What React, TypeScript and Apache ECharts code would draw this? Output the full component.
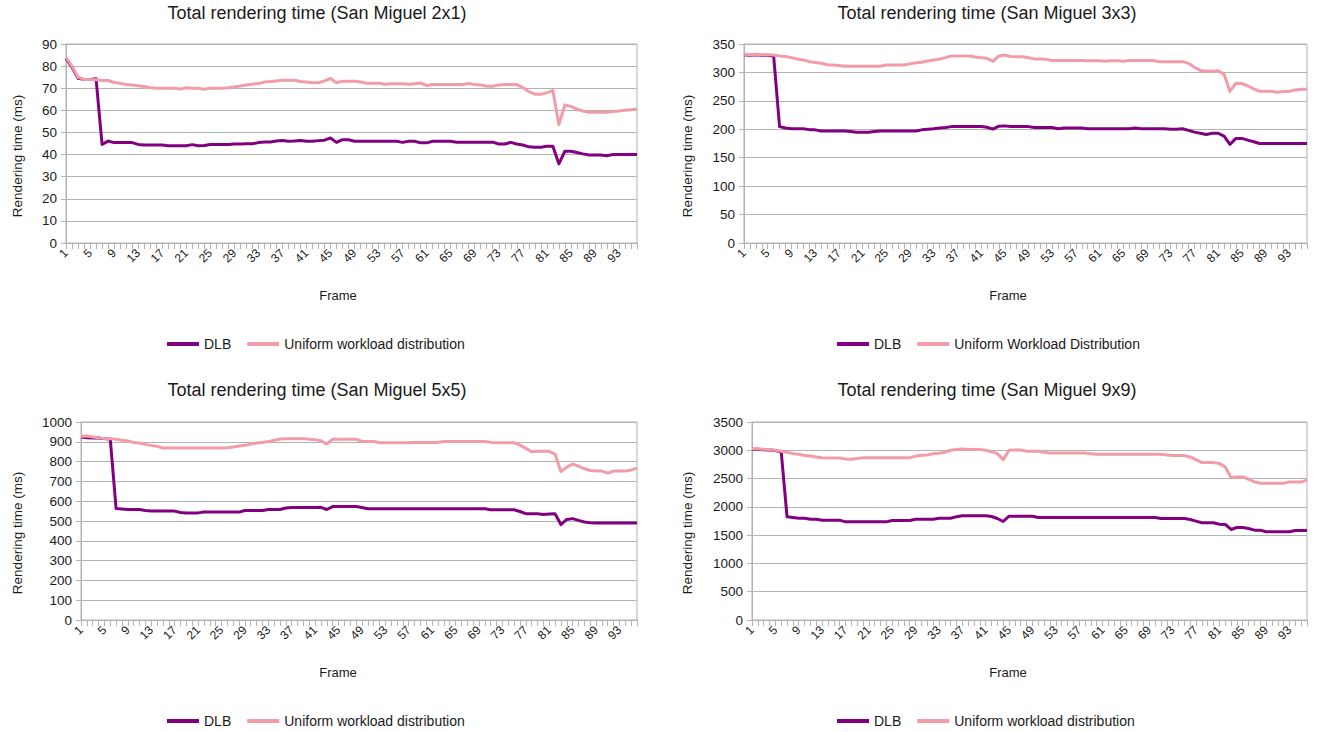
import React, { useEffect, useRef } from "react";
import * as echarts from "echarts";

const frames = Array.from({ length: 96 }, (_, i) => String(i + 1));

const dlb2x1 = [
  83.5, 79.5, 74.5, 74, 74, 74.3, 44.6, 46.1, 45.4, 45.4,
  45.4, 45.4, 44.6, 44.3, 44.3, 44.3, 44.3, 44, 44, 44,
  44, 44.5, 44, 44.1, 44.5, 44.5, 44.5, 44.5, 44.8, 44.8,
  44.9, 44.9, 45.4, 45.7, 45.7, 46.1, 46.4, 46, 46.1, 46.4,
  46, 46, 46.3, 46.5, 47.5, 45.5, 46.7, 46.7, 46, 46,
  46, 46, 46, 46, 46, 46, 45.5, 46, 46, 45.3,
  45.3, 46, 46, 46, 46, 45.6, 45.6, 45.6, 45.6, 45.6,
  45.6, 45.6, 44.8, 44.8, 45.5, 44.8, 44.3, 43.5, 43.3, 43.3,
  43.8, 43.8, 35.8, 41.5, 41.5, 40.9, 40.3, 39.8, 39.8, 39.8,
  39.5, 40, 40, 40, 40, 40,
];
const uni2x1 = [
  84, 80, 75, 74, 74, 73.8, 73.5, 73.5, 72.6, 72.2,
  71.7, 71.5, 71.1, 70.8, 70.2, 70, 70, 70, 70, 69.6,
  70.2, 70, 70, 69.5, 70, 70, 70, 70.2, 70.6, 71,
  71.5, 71.8, 72.1, 72.8, 73, 73.3, 73.6, 73.6, 73.6, 73,
  72.8, 72.5, 72.5, 73.3, 74.4, 72.4, 73.2, 73.2, 73.2, 72.8,
  72.3, 72.3, 72.3, 71.8, 72, 72, 72, 71.8, 72, 72.4,
  71.2, 71.7, 71.7, 71.7, 71.7, 71.7, 71.7, 72.1, 71.7, 71.5,
  70.9, 70.9, 71.5, 71.7, 71.7, 71.7, 70.3, 68.5, 67.3, 67.3,
  67.9, 69, 53.6, 62.4, 61.8, 60.6, 59.7, 59.1, 59.1, 59.1,
  59.1, 59.5, 59.7, 60, 60.3, 60.6,
];

const dlb3x3 = [
  331, 330, 331, 330, 330, 329, 204.7, 202.4, 201, 201,
  201, 199.4, 199, 197, 197, 197, 197, 197, 196, 194.7,
  194.7, 194.7, 196, 197, 197, 197, 197, 197, 197, 197,
  199, 200, 201, 202.4, 203, 204.7, 204.7, 204.7, 204.7, 204.7,
  204.7, 203.5, 200.3, 205.5, 206, 204.7, 204.7, 204.7, 204.7, 203,
  203, 203, 203, 201, 202.4, 202.4, 202.4, 202.4, 201, 201,
  201, 201, 201, 201, 201, 201, 202.4, 201, 201, 201,
  201, 201, 200, 200, 201, 198, 195, 193, 191, 193,
  193, 188, 173.5, 184, 184, 181, 178, 175, 175, 175,
  175, 175, 175, 175, 175, 175,
];
const uni3x3 = [
  332, 331, 332, 331, 331, 330.6, 329, 328, 326, 323.5,
  322, 319, 317.6, 316, 313.5, 313, 312, 311, 311, 311,
  311, 311, 311, 311, 313, 313, 313, 313, 315, 317,
  318, 320, 322, 323.5, 326, 329, 329, 329, 329, 327,
  326, 325, 319.5, 329, 330.5, 328, 327.5, 327.5, 326, 323.5,
  323.5, 323, 321, 321, 321, 321, 321, 321, 320.5, 320.5,
  320.5, 319.5, 320.5, 320.5, 319.5, 321, 321, 321, 321, 321,
  319, 319, 319, 319, 319, 316, 309, 303.5, 302, 302,
  303, 297, 266.5, 281, 280.5, 276.5, 271, 267, 267, 267,
  265, 266.5, 267, 269, 270.5, 270.5,
];

const dlb5x5 = [
  924, 921, 919, 919, 916, 913, 563, 561, 558, 558,
  558, 553, 550, 550, 550, 550, 550, 543, 541, 541,
  541, 545, 545, 545, 545, 545, 545, 545, 553, 553,
  553, 553, 558, 558, 558, 566, 568, 568, 568, 568,
  568, 569, 558, 573, 573, 573, 573, 573, 568, 562,
  562, 562, 562, 562, 562, 562, 562, 562, 562, 562,
  562, 562, 562, 562, 562, 562, 562, 562, 562, 562,
  557, 557, 557, 557, 557, 548, 537, 537, 537, 533,
  535, 537, 482, 508, 512, 503, 495, 491, 490, 490,
  490, 490, 490, 490, 490, 490,
];
const uni5x5 = [
  928, 929, 924, 921, 916, 916, 913, 908, 904, 897,
  894, 887, 882, 877, 869, 869, 869, 869, 869, 869,
  869, 869, 869, 869, 869, 870, 874, 879, 882, 889,
  894, 897, 901, 908, 914, 916, 916, 916, 916, 913,
  911, 905, 889, 913, 913, 913, 913, 913, 902, 902,
  902, 895, 895, 895, 895, 895, 895, 897, 897, 897,
  897, 897, 902, 902, 902, 902, 902, 902, 902, 902,
  897, 895, 895, 895, 895, 883, 867, 850, 852, 852,
  852, 838, 750, 772, 788, 777, 765, 755, 752, 752,
  742, 752, 752, 752, 758, 767,
];

const dlb9x9 = [
  3020, 3020, 3010, 3005, 2995, 2971, 1824, 1812, 1800, 1800,
  1782, 1782, 1765, 1765, 1765, 1765, 1735, 1735, 1735, 1735,
  1735, 1735, 1735, 1735, 1759, 1759, 1759, 1759, 1782, 1782,
  1782, 1782, 1800, 1800, 1800, 1824, 1841, 1841, 1841, 1841,
  1841, 1830, 1794, 1741, 1835, 1835, 1835, 1835, 1835, 1812,
  1812, 1812, 1812, 1812, 1812, 1812, 1812, 1812, 1812, 1812,
  1812, 1812, 1812, 1812, 1812, 1812, 1812, 1812, 1812, 1812,
  1794, 1794, 1794, 1794, 1794, 1776, 1747, 1718, 1718, 1718,
  1694, 1690, 1600, 1635, 1635, 1618, 1588, 1588, 1559, 1559,
  1559, 1559, 1559, 1582, 1582, 1582,
];
const uni9x9 = [
  3029, 3029, 3018, 3012, 3000, 2982, 2965, 2941, 2929, 2906,
  2900, 2882, 2870, 2865, 2865, 2865, 2847, 2841, 2853, 2870,
  2870, 2870, 2870, 2870, 2870, 2870, 2870, 2870, 2894, 2912,
  2918, 2941, 2947, 2965, 3000, 3012, 3024, 3012, 3012, 3012,
  3000, 2975, 2941, 2835, 3000, 3006, 3006, 2982, 2982, 2982,
  2965, 2953, 2953, 2953, 2953, 2953, 2953, 2953, 2940, 2929,
  2929, 2929, 2929, 2929, 2929, 2929, 2929, 2929, 2929, 2929,
  2929, 2918, 2906, 2906, 2906, 2882, 2835, 2782, 2782, 2782,
  2765, 2706, 2518, 2529, 2529, 2488, 2441, 2418, 2418, 2418,
  2418, 2418, 2441, 2441, 2441, 2471,
];

const titles = [
  "Total rendering time (San Miguel 2x1)",
  "Total rendering time (San Miguel 3x3)",
  "Total rendering time (San Miguel 5x5)",
  "Total rendering time (San Miguel 9x9)",
];
const uniformNames = [
  "Uniform workload distribution",
  "Uniform Workload Distribution",
  "Uniform workload distribution",
  "Uniform workload distribution",
];
const dlbName = "DLB";
const yMax = [90, 350, 1000, 3500];
const yStep = [10, 50, 100, 500];
const xName = "Frame";
const yName = "Rendering time (ms)";

const FONT = "'Liberation Sans', Arial, sans-serif";
const TEXT = "#1a1a1a";
const GRIDC = "#b3b3b3";
const PURPLE = "#800080";
const PINK = "#f29ca8";

const grids = [
  { left: 66, top: 44, width: 571, height: 199 },
  { left: 744, top: 44, width: 563, height: 199 },
  { left: 81, top: 422, width: 556, height: 198 },
  { left: 752, top: 422, width: 555, height: 198 },
];
const offsets = [
  [0, 0],
  [670, 0],
  [0, 377],
  [670, 377],
];

export default function App() {
  const ref = useRef<HTMLDivElement>(null);
  useEffect(() => {
    if (!ref.current) return;
    const chart = echarts.init(ref.current, null, { renderer: "svg" });
    const dlbData = [dlb2x1, dlb3x3, dlb5x5, dlb9x9];
    const uniData = [uni2x1, uni3x3, uni5x5, uni9x9];

    const option: any = {
      animation: false,
      backgroundColor: "#ffffff",
      textStyle: { fontFamily: FONT, color: TEXT },
      title: titles.map((t, i) => ({
        text: t,
        left: 317 + offsets[i][0],
        top: 4 + offsets[i][1],
        textAlign: "center",
        padding: 0,
        textStyle: { fontSize: 18, fontWeight: "normal", color: TEXT, fontFamily: FONT },
      })),
      legend: titles.map((_, i) => ({
        left: 167 + offsets[i][0],
        top: 337 + offsets[i][1],
        padding: 0,
        itemWidth: 32,
        itemHeight: 4,
        itemGap: 16,
        icon: "rect",
        data: [dlbName, uniformNames[i]],
        textStyle: { fontSize: 14, color: TEXT, fontFamily: FONT },
        selectedMode: false,
      })),
      grid: grids.map((g) => ({
        ...g,
        show: true,
        borderColor: GRIDC,
        borderWidth: 1,
        containLabel: false,
      })),
      xAxis: grids.map((_, i) => ({
        type: "category",
        gridIndex: i,
        data: frames,
        boundaryGap: false,
        axisLine: { lineStyle: { color: GRIDC } },
        axisTick: { show: true, interval: 0, length: 6, lineStyle: { color: GRIDC } },
        axisLabel: {
          interval: 3,
          rotate: 45,
          fontSize: 12,
          color: TEXT,
          fontFamily: FONT,
          margin: 8,
        },
        splitLine: { show: false },
      })),
      yAxis: grids.map((_, i) => ({
        type: "value",
        gridIndex: i,
        min: 0,
        max: yMax[i],
        interval: yStep[i],
        axisLine: { show: true, lineStyle: { color: GRIDC } },
        axisTick: { show: true, length: 5, lineStyle: { color: GRIDC } },
        axisLabel: {
          fontSize: 13.5,
          color: TEXT,
          fontFamily: FONT,
          margin: 9,
          formatter: (v: number) => String(v),
        },
        splitLine: { show: true, lineStyle: { color: GRIDC } },
      })),
      series: grids.flatMap((_, i) => [
        {
          name: dlbName,
          type: "line",
          xAxisIndex: i,
          yAxisIndex: i,
          data: dlbData[i],
          showSymbol: false,
          symbol: "none",
          lineStyle: { color: PURPLE, width: 3, join: "round" },
          itemStyle: { color: PURPLE },
        },
        {
          name: uniformNames[i],
          type: "line",
          xAxisIndex: i,
          yAxisIndex: i,
          data: uniData[i],
          showSymbol: false,
          symbol: "none",
          lineStyle: { color: PINK, width: 3, join: "round" },
          itemStyle: { color: PINK },
        },
      ]),
      graphic: offsets.flatMap(([ox, oy]) => [
        {
          type: "text",
          x: 338 + ox,
          y: 295 + oy,
          style: {
            text: xName,
            fontSize: 13,
            fontFamily: FONT,
            fill: TEXT,
            textAlign: "center",
            textVerticalAlign: "middle",
          },
        },
        {
          type: "text",
          x: 17 + ox,
          y: 156 + oy,
          rotation: Math.PI / 2,
          style: {
            text: yName,
            fontSize: 13.5,
            fontFamily: FONT,
            fill: TEXT,
            textAlign: "center",
            textVerticalAlign: "middle",
          },
        },
      ]),
    };
    chart.setOption(option);
    return () => chart.dispose();
  }, []);

  return (
    <div
      ref={ref}
      style={{ position: "fixed", left: 0, top: 0, width: 1317, height: 732, background: "#fff" }}
    />
  );
}
